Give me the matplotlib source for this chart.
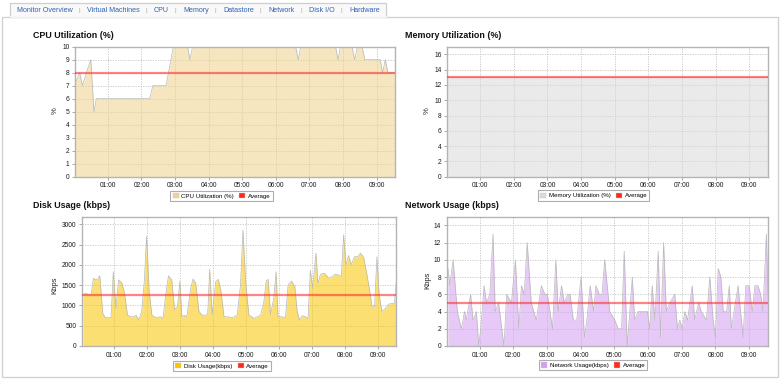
import matplotlib
matplotlib.use('Agg')
import matplotlib.pyplot as plt
from matplotlib.patches import Patch, Rectangle

plt.rcParams['font.family'] = ['Liberation Sans', 'DejaVu Sans']

W, H = 780, 379

# --- tab bar ---
tab_labels = ['Monitor Overview', 'Virtual Machines', 'CPU', 'Memory',
              'Datastore', 'Network', 'Disk I/O', 'Hardware']

# --- x axis (hours since start) ---
hour_ticks = [1, 2, 3, 4, 5, 6, 7, 8, 9]
hour_labels = ['01:00', '02:00', '03:00', '04:00', '05:00', '06:00', '07:00', '08:00', '09:00']

# --- CPU Utilization (%) ---
cpu_t = [0.0, 0.16, 0.24, 0.36, 0.49, 0.585, 0.655, 2.24, 2.34, 2.73, 2.95, 3.375,
         3.44, 3.52, 6.59, 6.67, 6.74, 7.78, 7.855, 7.925, 8.27, 8.35, 8.43, 8.57,
         8.65, 9.11, 9.18, 9.26, 9.34, 9.55]
cpu_v = [7, 8, 7, 8, 9, 5, 6, 6, 7, 7, 10, 10,
         9, 10, 10, 9, 10, 10, 9, 10, 10, 9, 10, 10,
         9, 9, 8, 9, 8, 8]
cpu_avg = 8

# --- Memory Utilization (%) ---
mem_t = [0.0, 9.55]
mem_v = [13, 13]
mem_avg = 13

# --- Disk Usage (kbps) ---
disk_t = [0.05, 0.12, 0.22, 0.295, 0.365, 0.43, 0.50, 0.56, 0.65, 0.73, 0.90, 0.97,
          1.05, 1.13, 1.23, 1.31, 1.40, 1.505, 1.61, 1.66, 1.74, 1.83, 1.91, 1.98,
          2.06, 2.14, 2.26, 2.41, 2.48, 2.56, 2.645, 2.745, 2.83, 2.92, 2.99, 3.05,
          3.12, 3.20, 3.32, 3.39, 3.47, 3.57, 3.67, 3.775, 3.835, 3.895, 3.97, 4.08,
          4.16, 4.24, 4.33, 4.43, 4.58, 4.73, 4.83, 4.905, 4.985, 5.085, 5.17, 5.24,
          5.34, 5.44, 5.54, 5.61, 5.67, 5.74, 5.84, 5.91, 5.97, 6.09, 6.195, 6.275,
          6.38, 6.48, 6.55, 6.62, 6.70, 6.80, 6.88, 6.95, 7.02, 7.12, 7.18, 7.26,
          7.385, 7.505, 7.61, 7.71, 7.81, 7.89, 7.96, 8.03, 8.11, 8.19, 8.29, 8.39,
          8.47, 8.57, 8.67, 8.77, 8.82, 8.90, 8.97, 9.04, 9.12, 9.23, 9.33, 9.43,
          9.50, 9.56]
disk_v = [1260, 1300, 1270, 1260, 1670, 1630, 1650, 1730, 800, 700, 700, 1830,
          930, 1630, 1550, 1300, 760, 720, 720, 760, 640, 850, 1590, 2700,
          1340, 760, 700, 720, 680, 1260, 1730, 1630, 890, 990, 1590, 720,
          760, 720, 1420, 1650, 1550, 850, 760, 760, 780, 1890, 780, 1590,
          1640, 1340, 720, 720, 700, 760, 1500, 2860, 1590, 760, 720, 680,
          720, 760, 1090, 1610, 1640, 780, 1175, 1830, 720, 720, 700, 1500,
          1600, 1460, 850, 640, 750, 720, 680, 1870, 1420, 2290, 1550, 1770,
          1790, 1670, 1710, 1770, 1750, 1710, 2740, 2000, 2230, 2000, 2200, 2200,
          2290, 2180, 1750, 1260, 990, 970, 2200, 1260, 850, 930, 1030, 1050,
          1050, 1590]
disk_avg = 1260

# --- Network Usage (kbps) ---
net_t = [0.06, 0.11, 0.21, 0.335, 0.455, 0.55, 0.60, 0.73, 0.80, 0.90, 0.97, 1.03,
         1.13, 1.20, 1.30, 1.395, 1.46, 1.56, 1.72, 1.80, 1.94, 2.06, 2.16, 2.24,
         2.32, 2.41, 2.53, 2.68, 2.83, 2.93, 3.01, 3.16, 3.26, 3.33, 3.43, 3.51,
         3.61, 3.68, 3.78, 3.88, 4.01, 4.11, 4.18, 4.28, 4.38, 4.45, 4.55, 4.63,
         4.71, 4.86, 5.01, 5.11, 5.21, 5.29, 5.38, 5.53, 5.60, 5.70, 5.98, 6.05,
         6.12, 6.20, 6.30, 6.37, 6.46, 6.54, 6.64, 6.79, 6.87, 6.94, 7.01, 7.09,
         7.17, 7.31, 7.38, 7.50, 7.58, 7.73, 7.83, 7.93, 8.00, 8.08, 8.16, 8.23,
         8.33, 8.41, 8.47, 8.55, 8.67, 8.82, 8.90, 9.00, 9.09, 9.17, 9.26, 9.34,
         9.41, 9.51, 9.56]
net_v = [9, 7, 10, 4, 2, 4, 3, 6, 3, 4, 0, 2,
         7, 5, 6, 13, 4, 5, 0, 6, 5, 10, 2, 7,
         6, 12, 5, 3, 7, 6, 6, 2, 10, 4, 7, 5,
         6, 6, 3, 3, 8, 1, 3, 7, 4, 7, 6, 6,
         10, 4, 3, 2, 2, 11, 0, 8, 3, 4, 4, 2,
         7, 3, 11, 1, 12, 4, 5, 6, 2, 3, 2, 4,
         3, 7, 3, 5, 4, 3, 8, 3, 1, 9, 8, 4,
         4, 7, 2, 4, 7, 1, 7, 7, 4, 7, 7, 6,
         4, 13, 6]
net_avg = 5


fig = plt.figure(figsize=(W / 100, H / 100), dpi=100)
fig.patch.set_facecolor('white')

# page frame and tab strip, drawn in pixel coordinates
bg = fig.add_axes([0, 0, 1, 1], zorder=-5)
bg.set_xlim(0, W)
bg.set_ylim(H, 0)
bg.axis('off')
bg.add_patch(Rectangle((1.5, 16.5), W - 4, H - 18.5, fill=False, ec='#cfcfcf', lw=0.9))
bg.add_patch(Rectangle((10, 3.3), 376, 13.2, fc='#f9f9f9', ec='#cfcfcf', lw=0.9))
bg.plot([10.5, 385.5], [16.5, 16.5], color='#f9f9f9', lw=1.2)

renderer = fig.canvas.get_renderer()
x = 16.7
for i, lab in enumerate(tab_labels):
    t = bg.text(x, 10.7, lab, color='#2f62b4', fontsize=5.1, ha='left', va='center')
    x += t.get_window_extent(renderer=renderer).width
    if i < len(tab_labels) - 1:
        bg.text(x + 6.6, 10.7, '|', color='#aaaaaa', fontsize=4.5, ha='center', va='center')
        x += 14.3


def px_axes(left, top, right, bottom):
    return fig.add_axes([left / W, 1 - bottom / H, (right - left) / W, (bottom - top) / H])


def DrawPanel(box, title, title_xy, t, v, avg, color, label, ylim, yticks,
              ylabel, ylabel_xy, legend_xy):
    ax = px_axes(*box)
    ax.fill_between(t, v, 0, color=color, alpha=0.55, lw=0, zorder=2)
    ax.plot(t, v, color='#b8b8b8', lw=0.5, zorder=3)
    ax.axhline(avg, color='#ff3030', alpha=0.6, lw=1.6, zorder=4)
    ax.set_xlim(0.02, 9.55)
    ax.set_ylim(*ylim)
    ax.set_xticks(hour_ticks)
    ax.set_xticklabels(hour_labels)
    ax.set_yticks(yticks)
    ax.grid(True, color='#c4c4c4', lw=0.6, ls=(0, (1.5, 1.5)), zorder=1)
    ax.tick_params(labelsize=4.8, length=2, width=0.6, pad=2, colors='#999999',
                   labelcolor='#1a1a1a')
    for s in ax.spines.values():
        s.set_color('#b4b4b4')
        s.set_linewidth(1.0)
    fig.text(title_xy[0] / W, 1 - title_xy[1] / H, title, fontsize=6.4,
             fontweight='bold', color='#111111', ha='left', va='center')
    fig.text(ylabel_xy[0] / W, 1 - ylabel_xy[1] / H, ylabel, fontsize=5.6,
             rotation=90, color='#222222', ha='center', va='center')
    handles = [Patch(fc=color, ec='#cccccc', lw=0.3, label=label),
               Patch(fc='#ff2a1a', ec='#cccccc', lw=0.3, label='Average')]
    leg = ax.legend(handles=handles, loc='center', ncol=2, fontsize=4.4,
                    bbox_to_anchor=(legend_xy[0] / W, 1 - legend_xy[1] / H),
                    bbox_transform=fig.transFigure, fancybox=False,
                    edgecolor='#9a9a9a', handlelength=1.0, handleheight=1.0,
                    handletextpad=0.4, columnspacing=0.9, borderpad=0.35,
                    borderaxespad=0)
    leg.get_frame().set_linewidth(0.8)
    return ax


DrawPanel((75, 46.7, 395, 176.7), 'CPU Utilization (%)', (32.7, 36),
          cpu_t, cpu_v, cpu_avg, '#efd38c', 'CPU Utilization (%)',
          (0, 10), range(0, 11), '%', (55, 111), (221.5, 195.7))
DrawPanel((447.3, 46.7, 767.7, 176.7), 'Memory Utilization (%)', (405, 36),
          mem_t, mem_v, mem_avg, '#d9d9d9', 'Memory Utilization (%)',
          (0, 17), range(0, 17, 2), '%', (427.7, 111), (593.8, 195.5))
DrawPanel((82, 217.3, 396, 346), 'Disk Usage (kbps)', (32.7, 206),
          disk_t, disk_v, disk_avg, '#f8c600', 'Disk Usage(kbps)',
          (0, 3170), range(0, 3001, 500), 'Kbps', (55, 285), (222, 365.7))
DrawPanel((446.7, 216.7, 767.7, 346), 'Network Usage (kbps)', (405, 206),
          net_t, net_v, net_avg, '#d59ef2', 'Network Usage(kbps)',
          (0, 15), range(0, 15, 2), 'Kbps', (427.7, 280), (593.3, 365.3))

fig.savefig('out.png', dpi=100)
